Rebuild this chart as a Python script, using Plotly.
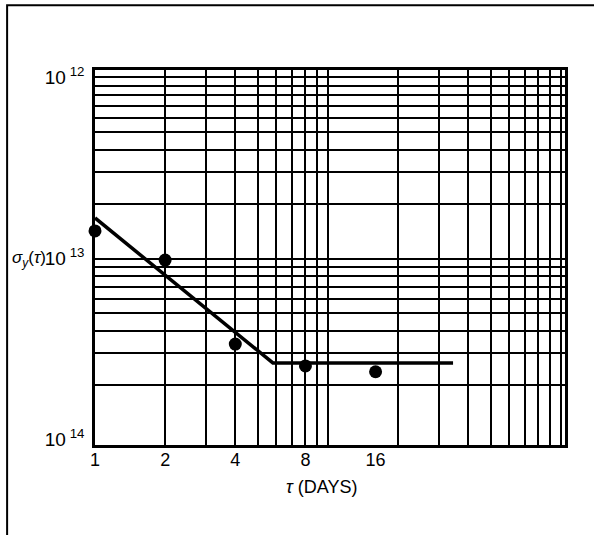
import plotly.graph_objects as go

# measured points
tau_days = [1, 2, 4, 8, 16]
sigma_y = [1.42e-13, 9.8e-14, 3.37e-14, 2.55e-14, 2.37e-14]

# fitted line (slope then flat floor)
fit_tau = [1, 5.8, 34.4]
fit_sigma = [1.675e-13, 2.65e-14, 2.65e-14]

# axis labels
x_tick_vals = [1, 2, 4, 8, 16]
x_tick_text = ["1", "2", "4", "8", "16"]
x_grid_vals = [1, 2, 3, 4, 5, 6, 7, 8, 9, 10, 20, 30, 40, 50, 60, 70, 80, 90, 100]

y_tick_vals = [1e-14, 1e-13, 1e-12]
y_tick_text = ["10<sup> 14</sup>", "10<sup> 13</sup>", "10<sup> 12</sup>"]
y_grid_vals = [k * 1e-14 for k in range(2, 10)] + [k * 1e-13 for k in range(1, 10)] + [1e-12]

x_title = "<i>τ</i> (DAYS)"
y_title = "<i>σ</i><sub><i>y</i></sub>(<i>τ</i>)"

FONT = "Liberation Sans, Arial, Helvetica, sans-serif"

fig = go.Figure()
fig.add_trace(go.Scatter(
    x=fit_tau, y=fit_sigma, mode="lines",
    line=dict(color="black", width=3.5), showlegend=False, hoverinfo="skip"))
fig.add_trace(go.Scatter(
    x=tau_days, y=sigma_y, mode="markers", cliponaxis=False,
    marker=dict(color="black", size=13), showlegend=False))

fig.update_xaxes(
    type="log", range=[0, 2.017],
    tickvals=x_tick_vals, ticktext=x_tick_text, showgrid=False,
    minor=dict(tickvals=x_grid_vals, showgrid=True, gridcolor="black", gridwidth=2.2, ticks=""),
    showline=True, linecolor="black", linewidth=2.5, mirror=True,
    ticks="", tickfont=dict(family=FONT, size=18, color="black"),
    ticklabelstandoff=-3,
    zeroline=False,
)
fig.update_yaxes(
    type="log", range=[-14.03, -11.9586],
    tickvals=y_tick_vals, ticktext=y_tick_text, showgrid=False,
    minor=dict(tickvals=y_grid_vals, showgrid=True, gridcolor="black", gridwidth=2.2, ticks=""),
    showline=True, linecolor="black", linewidth=2.5, mirror=True,
    ticks="", tickfont=dict(family=FONT, size=19, color="black"),
    ticklabelstandoff=4,
    zeroline=False,
)

fig.add_annotation(
    xref="paper", yref="paper", x=0.481, y=-0.112, text=x_title, showarrow=False,
    font=dict(family=FONT, size=18, color="black"), xanchor="center", yanchor="middle")
fig.add_annotation(
    xref="paper", yref="y", x=-0.181, y=-13, text=y_title, showarrow=False,
    font=dict(family=FONT, size=17, color="black"), xanchor="left", yanchor="middle")

# outer frame
fig.add_shape(type="rect", xref="paper", yref="paper",
              x0=-0.187, x1=1.2, y0=-0.4, y1=1.173,
              line=dict(color="black", width=2))

fig.update_layout(
    width=594, height=535,
    margin=dict(l=95, r=29, t=70, b=90),
    paper_bgcolor="white", plot_bgcolor="white",
    font=dict(family=FONT, color="black"),
)

fig.write_html("out.html", config={"displayModeBar": False},
               post_script="document.body.style.margin='0';")
